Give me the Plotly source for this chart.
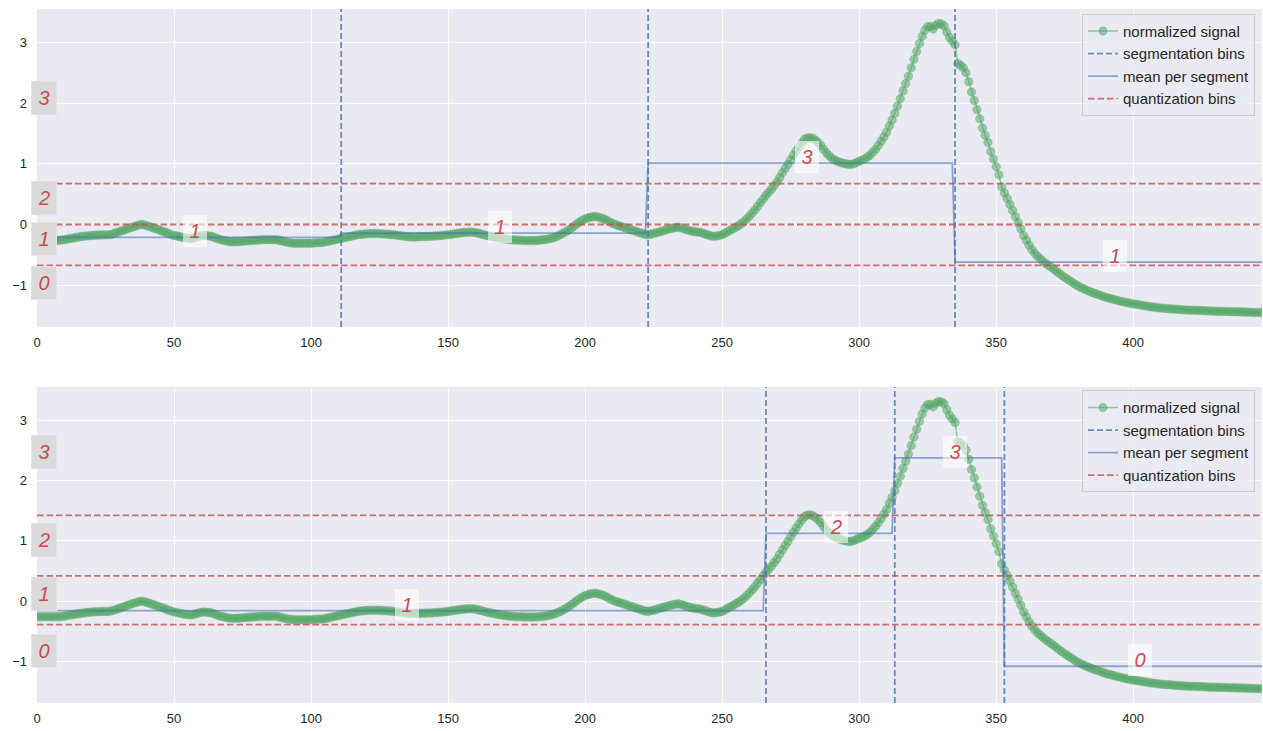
import numpy as np
import plotly.graph_objects as go

# normalized signal, one value per sample (448 samples)
signal = [
    -0.26, -0.26, -0.26, -0.26, -0.26, -0.26, -0.26, -0.26, -0.26, -0.255,
    -0.25, -0.24, -0.23, -0.225, -0.215, -0.21, -0.20, -0.195, -0.19, -0.185,
    -0.18, -0.178, -0.175, -0.173, -0.172, -0.17, -0.17, -0.165, -0.15, -0.135,
    -0.12, -0.105, -0.09, -0.07, -0.055, -0.04, -0.025, -0.01, 0.00, -0.005,
    -0.02, -0.035, -0.05, -0.065, -0.08, -0.10, -0.115, -0.13, -0.15, -0.165,
    -0.18, -0.19, -0.20, -0.21, -0.22, -0.225, -0.23, -0.225, -0.21, -0.195,
    -0.185, -0.18, -0.185, -0.19, -0.20, -0.22, -0.235, -0.25, -0.26, -0.27,
    -0.28, -0.285, -0.285, -0.283, -0.28, -0.275, -0.272, -0.268, -0.265, -0.262,
    -0.258, -0.255, -0.252, -0.25, -0.25, -0.25, -0.25, -0.25, -0.255, -0.27,
    -0.28, -0.29, -0.30, -0.305, -0.31, -0.31, -0.31, -0.31, -0.31, -0.31,
    -0.31, -0.305, -0.30, -0.30, -0.295, -0.29, -0.28, -0.27, -0.26, -0.25,
    -0.24, -0.23, -0.22, -0.21, -0.20, -0.19, -0.18, -0.17, -0.165, -0.16,
    -0.155, -0.152, -0.15, -0.15, -0.15, -0.152, -0.155, -0.158, -0.162, -0.165,
    -0.17, -0.175, -0.18, -0.187, -0.194, -0.20, -0.203, -0.205, -0.205, -0.203,
    -0.20, -0.20, -0.198, -0.196, -0.195, -0.19, -0.187, -0.185, -0.18, -0.175,
    -0.17, -0.163, -0.157, -0.15, -0.143, -0.137, -0.13, -0.127, -0.125, -0.128,
    -0.135, -0.145, -0.155, -0.167, -0.18, -0.19, -0.20, -0.21, -0.22, -0.227,
    -0.233, -0.24, -0.245, -0.25, -0.255, -0.257, -0.258, -0.26, -0.262, -0.264,
    -0.265, -0.264, -0.262, -0.26, -0.255, -0.25, -0.245, -0.235, -0.225, -0.21,
    -0.19, -0.17, -0.145, -0.12, -0.09, -0.06, -0.025, 0.01, 0.04, 0.07,
    0.09, 0.11, 0.12, 0.13, 0.13, 0.12, 0.105, 0.09, 0.065, 0.04,
    0.02, 0.00, -0.015, -0.03, -0.045, -0.06, -0.075, -0.09, -0.105, -0.12,
    -0.135, -0.15, -0.165, -0.17, -0.16, -0.15, -0.137, -0.123, -0.11, -0.097,
    -0.083, -0.07, -0.06, -0.05, -0.045, -0.055, -0.07, -0.085, -0.10, -0.11,
    -0.12, -0.125, -0.13, -0.145, -0.16, -0.175, -0.19, -0.195, -0.19, -0.18,
    -0.17, -0.145, -0.12, -0.095, -0.07, -0.045, -0.02, 0.015, 0.05, 0.095,
    0.14, 0.19, 0.24, 0.30, 0.36, 0.42, 0.48, 0.53, 0.58, 0.64,
    0.70, 0.775, 0.85, 0.92, 0.99, 1.065, 1.14, 1.21, 1.28, 1.34,
    1.40, 1.425, 1.43, 1.42, 1.39, 1.35, 1.30, 1.24, 1.18, 1.135,
    1.09, 1.065, 1.04, 1.025, 1.01, 1.00, 0.99, 0.99, 1.00, 1.02,
    1.04, 1.06, 1.08, 1.11, 1.14, 1.19, 1.24, 1.30, 1.37, 1.44,
    1.52, 1.62, 1.72, 1.83, 1.95, 2.07, 2.20, 2.32, 2.44, 2.58,
    2.72, 2.85, 2.98, 3.10, 3.20, 3.26, 3.26, 3.22, 3.28, 3.31,
    3.30, 3.27, 3.17, 3.08, 3.02, 2.96, 2.65, 2.62, 2.58, 2.50,
    2.35, 2.18, 2.04, 1.89, 1.74, 1.59, 1.47, 1.35, 1.20, 1.08,
    0.95, 0.82, 0.62, 0.52, 0.43, 0.33, 0.23, 0.13, 0.03, -0.07,
    -0.18, -0.26, -0.34, -0.41, -0.47, -0.52, -0.56, -0.60, -0.64, -0.67,
    -0.70, -0.735, -0.77, -0.805, -0.84, -0.87, -0.90, -0.93, -0.96, -0.99,
    -1.015, -1.04, -1.06, -1.08, -1.10, -1.118, -1.135, -1.15, -1.167, -1.184,
    -1.20, -1.212, -1.224, -1.235, -1.247, -1.259, -1.27, -1.28, -1.29, -1.30,
    -1.307, -1.314, -1.32, -1.328, -1.337, -1.345, -1.352, -1.358, -1.365, -1.37,
    -1.375, -1.38, -1.383, -1.387, -1.39, -1.393, -1.397, -1.40, -1.403, -1.407,
    -1.41, -1.411, -1.412, -1.414, -1.415, -1.418, -1.42, -1.422, -1.425, -1.426,
    -1.428, -1.429, -1.43, -1.431, -1.433, -1.434, -1.435, -1.436, -1.438, -1.439,
    -1.44, -1.442, -1.444, -1.446, -1.448, -1.449, -1.45, -1.45,
]

# equal-length segmentation with gaussian quantization (top panel)
top_boundaries = [111, 223, 335]
top_bins = [-0.674, 0.0, 0.674]

# adaptive segmentation with fitted quantization (bottom panel)
bottom_boundaries = [266, 313, 353]
bottom_bins = [-0.39, 0.42, 1.42]

x_ticks = [0, 50, 100, 150, 200, 250, 300, 350, 400]
y_ticks = [-1, 0, 1, 2, 3]

GREEN = "85,168,104"
BLUE = "76,114,176"
RED = "196,78,82"
BG = "#EAEAF2"
TXT = "#262626"
FONT = "Arial, Liberation Sans, sans-serif"

sig = np.asarray(signal, dtype=float)
n = len(sig)
xs = np.arange(n)
smin, smax = sig.min(), sig.max()
span = smax - smin
y_lo, y_hi = smin - 0.05 * span, smax + 0.05 * span
x_lo, x_hi = 0, n - 1

fig = go.Figure()
annotations = []


def panel(boundaries, bins, xa, ya, legend_name):
    xref = xa.replace("axis", "")
    yref = ya.replace("axis", "")
    starts = [0] + boundaries
    ends = boundaries + [n]
    means = [sig[s:e].mean() for s, e in zip(starts, ends)]
    mean_line = np.concatenate([np.full(e - s, m) for s, e, m in zip(starts, ends, means)])

    fig.add_trace(go.Scatter(
        x=xs, y=sig, mode="lines+markers", name="normalized signal",
        line=dict(color=f"rgba({GREEN},0.6)", width=1.5),
        marker=dict(size=8.5, color=f"rgba({GREEN},0.55)",
                    line=dict(color=f"rgba({GREEN},0.35)", width=1)),
        xaxis=xref, yaxis=yref, legend=legend_name,
    ))

    vx, vy = [], []
    for b in boundaries:
        vx += [b, b, None]
        vy += [y_lo, y_hi, None]
    fig.add_trace(go.Scatter(
        x=vx, y=vy, mode="lines", name="segmentation bins",
        line=dict(color=f"rgba({BLUE},0.8)", width=1.8, dash="6px,3px"),
        xaxis=xref, yaxis=yref, legend=legend_name,
    ))

    fig.add_trace(go.Scatter(
        x=xs, y=mean_line, mode="lines", name="mean per segment",
        line=dict(color=f"rgba({BLUE},0.6)", width=1.8),
        xaxis=xref, yaxis=yref, legend=legend_name,
    ))

    hx, hy = [], []
    for v in bins:
        hx += [x_lo, x_hi, None]
        hy += [v, v, None]
    fig.add_trace(go.Scatter(
        x=hx, y=hy, mode="lines", name="quantization bins",
        line=dict(color=f"rgba({RED},0.8)", width=1.8, dash="6.5px,3px"),
        xaxis=xref, yaxis=yref, legend=legend_name,
    ))

    # symbol of each quantization bin, placed at the bin's middle
    edges = [smin] + bins + [smax]
    for i in range(len(bins) + 1):
        annotations.append(dict(
            x=0, y=(edges[i] + edges[i + 1]) / 2, xref=xref, yref=yref,
            text=str(i), showarrow=False, xanchor="center", yanchor="middle",
            xshift=6.5, yshift=6, width=18, height=26, borderpad=3,
            bgcolor="#dadada", bordercolor="#e2e2e6", borderwidth=1,
            font=dict(family=FONT, size=20, color=f"rgb({RED})", style="italic"),
        ))

    # symbol assigned to every segment, placed above its mean
    symbols = np.digitize(means, bins)
    for s, e, m, sym in zip(starts, ends, means, symbols):
        annotations.append(dict(
            x=(s + e) / 2, y=m, xref=xref, yref=yref,
            text=str(int(sym)), showarrow=False, xanchor="center", yanchor="middle",
            xshift=5.5, yshift=6, width=18, height=26, borderpad=3,
            bgcolor="rgba(255,255,255,0.6)", borderwidth=0,
            font=dict(family=FONT, size=20, color=f"rgb({RED})", style="italic"),
        ))


panel(top_boundaries, top_bins, "xaxis", "yaxis", "legend")
panel(bottom_boundaries, bottom_bins, "xaxis2", "yaxis2", "legend2")

axis_common = dict(
    showgrid=True, gridcolor="white", gridwidth=1.2, zeroline=False,
    showline=False, ticks="",
    tickfont=dict(family=FONT, size=13, color=TXT),
)
xaxis_cfg = dict(axis_common, range=[x_lo, x_hi], tickvals=x_ticks, ticklabelstandoff=6)
yaxis_cfg = dict(axis_common, range=[y_lo, y_hi], tickvals=y_ticks, ticklabelstandoff=9)

legend_common = dict(
    xanchor="right", yanchor="top", x=0.9943,
    bgcolor="rgba(234,234,242,0.8)", bordercolor="#cccccc", borderwidth=1,
    font=dict(family=FONT, size=15, color=TXT),
)

fig.update_layout(
    width=1263, height=731,
    margin=dict(l=37, r=1, t=9, b=28),
    paper_bgcolor="white", plot_bgcolor=BG,
    font=dict(family=FONT, color=TXT),
    xaxis=dict(xaxis_cfg, anchor="y"),
    yaxis=dict(yaxis_cfg, domain=[0.5418, 1.0], anchor="x"),
    xaxis2=dict(xaxis_cfg, anchor="y2"),
    yaxis2=dict(yaxis_cfg, domain=[0.0, 0.4553], anchor="x2"),
    legend=dict(legend_common, y=0.993),
    legend2=dict(legend_common, y=0.4505),
    annotations=annotations,
    showlegend=True,
)

fig.write_html("out.html")
